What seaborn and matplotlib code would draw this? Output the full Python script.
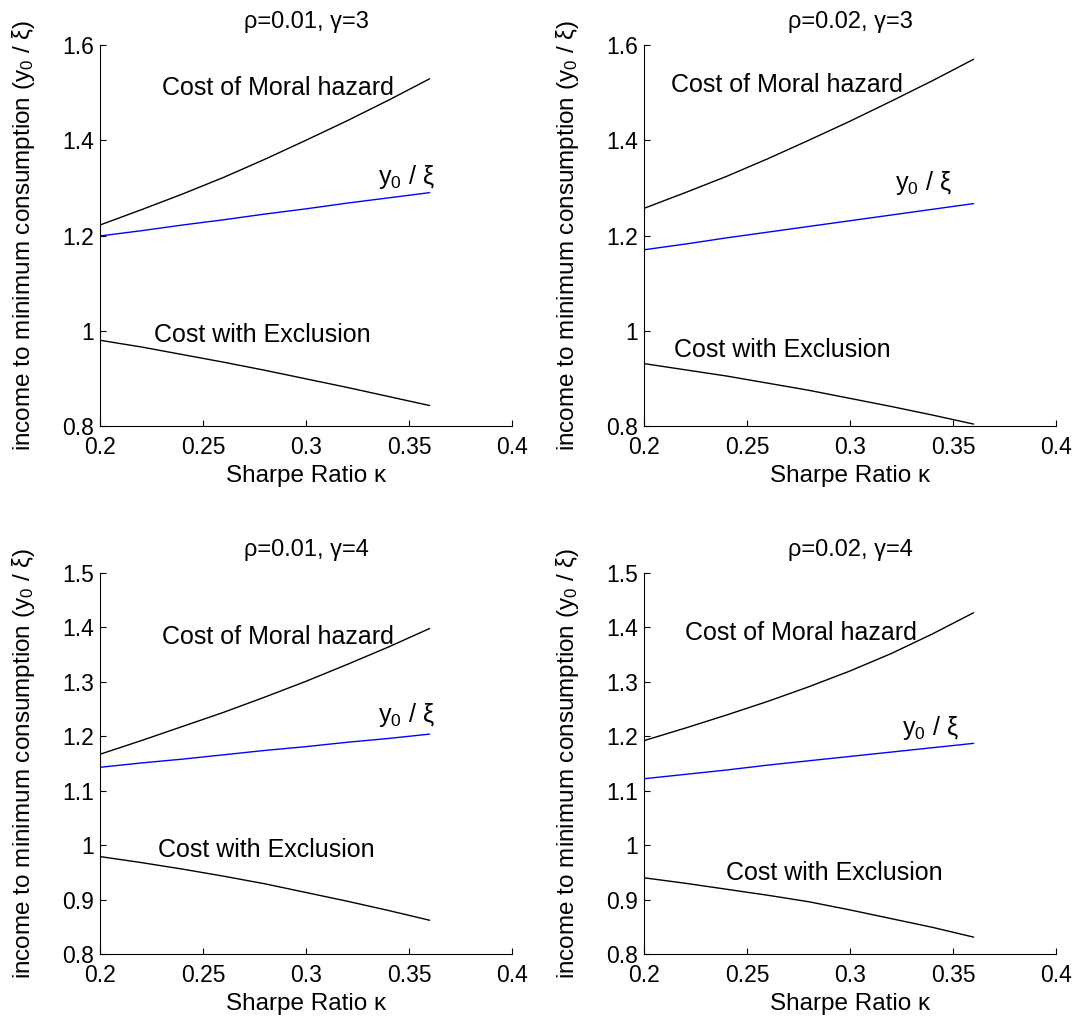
import numpy as np
import pandas as pd
import matplotlib
matplotlib.use("Agg")
import matplotlib.pyplot as plt
import seaborn as sns

# ---------------- data ----------------
kappa = [0.20, 0.22, 0.24, 0.26, 0.28, 0.30, 0.32, 0.34, 0.36]

titles = ["ρ=0.01, γ=3", "ρ=0.02, γ=3", "ρ=0.01, γ=4", "ρ=0.02, γ=4"]

moral_hazard = [
    [1.222, 1.254, 1.287, 1.322, 1.360, 1.400, 1.441, 1.484, 1.529],
    [1.257, 1.290, 1.324, 1.361, 1.400, 1.440, 1.482, 1.525, 1.570],
    [1.167, 1.192, 1.218, 1.244, 1.272, 1.301, 1.332, 1.364, 1.398],
    [1.192, 1.215, 1.239, 1.264, 1.291, 1.320, 1.352, 1.388, 1.427],
]
y0_xi = [
    [1.199, 1.210, 1.222, 1.233, 1.245, 1.256, 1.268, 1.279, 1.290],
    [1.170, 1.182, 1.195, 1.207, 1.219, 1.231, 1.243, 1.255, 1.267],
    [1.143, 1.151, 1.158, 1.166, 1.174, 1.181, 1.189, 1.196, 1.204],
    [1.122, 1.130, 1.138, 1.147, 1.155, 1.163, 1.171, 1.179, 1.187],
]
exclusion = [
    [0.980, 0.966, 0.950, 0.934, 0.917, 0.899, 0.881, 0.862, 0.843],
    [0.931, 0.918, 0.905, 0.890, 0.875, 0.858, 0.841, 0.823, 0.804],
    [0.979, 0.968, 0.956, 0.943, 0.929, 0.913, 0.897, 0.880, 0.862],
    [0.940, 0.930, 0.919, 0.908, 0.896, 0.881, 0.865, 0.849, 0.831],
]

ylims = [(0.8, 1.6), (0.8, 1.6), (0.8, 1.5), (0.8, 1.5)]
yticks = [
    [0.8, 1.0, 1.2, 1.4, 1.6],
    [0.8, 1.0, 1.2, 1.4, 1.6],
    [0.8, 0.9, 1.0, 1.1, 1.2, 1.3, 1.4, 1.5],
    [0.8, 0.9, 1.0, 1.1, 1.2, 1.3, 1.4, 1.5],
]
xticks = [0.2, 0.25, 0.3, 0.35, 0.4]
xtick_labels = ["0.2", "0.25", "0.3", "0.35", "0.4"]

# annotation positions (data coords): (x, y) for MH, y0/xi, Exclusion
label_pos = [
    [(0.230, 1.509), (0.335, 1.323), (0.226, 0.991)],
    [(0.213, 1.516), (0.322, 1.311), (0.2146, 0.960)],
    [(0.230, 1.383), (0.335, 1.239), (0.228, 0.991)],
    [(0.220, 1.390), (0.325, 1.215), (0.240, 0.949)],
]

def fmt_tick(v):
    s = f"{v:.1f}"
    return "1" if s == "1.0" else s

# ---------------- style ----------------
sns.set_style("ticks")
plt.rcParams["font.family"] = ["Liberation Sans", "DejaVu Sans"]
plt.rcParams["mathtext.fontset"] = "custom"
plt.rcParams["mathtext.rm"] = "Liberation Sans"
plt.rcParams["mathtext.it"] = "Liberation Sans:italic"
plt.rcParams["text.color"] = "black"
plt.rcParams["axes.labelcolor"] = "black"

FS_TICK = 16.5
FS_LAB = 17.5
FS_TITLE = 17
FS_ANN = 18

fig = plt.figure(figsize=(10.8, 10.19), dpi=100)
W, H = 1080, 1019
boxes = [
    (100, 45, 412, 381),
    (644, 45, 412, 381),
    (100, 573, 412, 381),
    (644, 573, 412, 381),
]

palette = {"mh": "black", "y0": "blue", "ex": "black"}

for i, (lx, ty, w, h) in enumerate(boxes):
    ax = fig.add_axes([lx / W, 1 - (ty + h) / H, w / W, h / H])
    n = len(kappa)
    df = pd.DataFrame({
        "kappa": kappa * 3,
        "value": moral_hazard[i] + y0_xi[i] + exclusion[i],
        "series": ["mh"] * n + ["y0"] * n + ["ex"] * n,
    })
    sns.lineplot(data=df, x="kappa", y="value", hue="series", palette=palette,
                 legend=False, ax=ax, linewidth=1.0, estimator=None, sort=False)
    ax.set_xlim(0.2, 0.4)
    ax.set_ylim(*ylims[i])
    ax.set_xticks(xticks)
    ax.set_xticklabels(xtick_labels)
    ax.set_yticks(yticks[i])
    ax.set_yticklabels([fmt_tick(v) for v in yticks[i]])
    ax.tick_params(direction="in", length=4, width=0.8, labelsize=FS_TICK,
                   colors="black")
    ax.tick_params(axis="x", pad=7)
    ax.tick_params(axis="y", pad=4)
    for s in ["top", "right"]:
        ax.spines[s].set_visible(False)
    for s in ["left", "bottom"]:
        ax.spines[s].set_linewidth(0.8)
        ax.spines[s].set_color("black")
    ax.set_title(titles[i], fontsize=FS_TITLE, pad=12, color="black")
    ax.set_xlabel("Sharpe Ratio κ", fontsize=FS_LAB)
    ax.xaxis.set_label_coords(0.5, -0.103)
    ax.set_ylabel(r"income to minimum consumption ($\mathrm{y_0}$ / ξ)", fontsize=FS_LAB)
    ax.yaxis.set_label_coords(-0.153, 0.5)

    (mx, my), (yx, yy), (ex, ey) = label_pos[i]
    ax.text(mx, my, "Cost of Moral hazard", fontsize=FS_ANN, ha="left", va="center")
    ax.text(yx, yy, r"$\mathrm{y_0}$ / ξ", fontsize=FS_ANN, ha="left", va="center")
    ax.text(ex, ey, "Cost with Exclusion", fontsize=FS_ANN, ha="left", va="center")

fig.savefig("out.png", dpi=100)
